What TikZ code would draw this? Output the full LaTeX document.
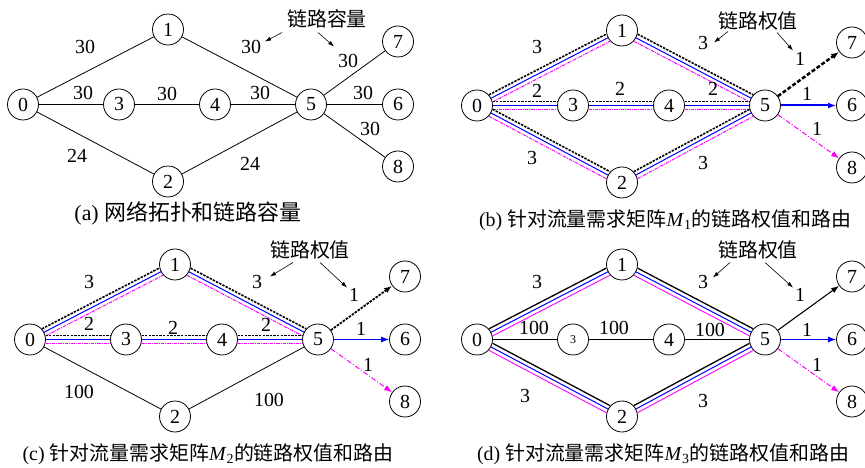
\documentclass[tikz,border=0pt]{standalone}
\usepackage{fontspec}
\setmainfont{Liberation Serif}
\newfontfamily\cjk{Noto Sans CJK SC}
\usetikzlibrary{calc,arrows.meta}
\pgfdeclarelayer{bg}
\pgfsetlayers{bg,main}

\newcommand\noderad{15.5bp}
\newcommand\lanegap{4bp}

% the nine routers of one panel; #1 = name prefix, #2 = font for router 3
\newcommand\placenodes[2]{%
  \node[vtx] (#1-0) at (0,0) {0};
  \node[vtx] (#1-1) at (145,-75) {1};
  \node[vtx] (#1-2) at (145,77) {2};
  \node[vtx] (#1-3) at (96,0) {#2{3}};
  \node[vtx] (#1-4) at (192,0) {4};
  \node[vtx] (#1-5) at (288,0) {5};
  \node[vtx] (#1-7) at (375,-63) {7};
  \node[vtx] (#1-6) at (375,0) {6};
  \node[vtx] (#1-8) at (375,62) {8};
}

% three parallel routes along one link: #3 upper, #4 middle, #5 lower
\newcommand\tripleedge[5]{%
  \draw[#3] ($(#1.center)!\noderad!(#2.center)!\lanegap!90:(#2.center)$) --
            ($(#2.center)!\noderad!(#1.center)!\lanegap!-90:(#1.center)$);
  \draw[#4] ($(#1.center)!\noderad!(#2.center)$) --
            ($(#2.center)!\noderad!(#1.center)$);
  \draw[#5] ($(#1.center)!\noderad!(#2.center)!\lanegap!-90:(#2.center)$) --
            ($(#2.center)!\noderad!(#1.center)!\lanegap!90:(#1.center)$);
}

\definecolor{rblue}{RGB}{0,0,255}
\definecolor{rmag}{RGB}{255,0,255}

\tikzset{
  vtx/.style={circle, draw, line width=0.8pt, minimum size=31bp, inner sep=0pt,
              fill=white, font=\fontsize{20}{20}\selectfont},
  lab/.style={inner sep=0pt, font=\fontsize{20}{20}\selectfont},
  notetxt/.style={inner sep=0pt, font=\fontsize{20}{20}\selectfont\cjk},
  captxt/.style={inner sep=0pt, font=\fontsize{20}{20}\selectfont},
  plainln/.style={line width=0.8pt},
  kdash/.style={line width=1.6pt, dash pattern=on 2.4pt off 1.2pt},
  ksolid/.style={line width=1.3pt},
  blu/.style={rblue, line width=1bp},
  magdash/.style={rmag, line width=1bp, dash pattern=on 3.5pt off 1pt on 1pt off 1pt},
  magsolid/.style={rmag, line width=0.9bp},
  headtip/.style={-{Latex[length=8pt,width=6pt]}},
  annarrow/.style={line width=0.6pt, -{Latex[length=6pt,width=4pt]}},
  magarrow/.style={rmag, line width=1pt, headtip, dash pattern=on 5pt off 2pt on 1pt off 2pt}
}

\begin{document}
\begin{tikzpicture}[x=1bp, y=-1bp]
\useasboundingbox (0,0) rectangle (865,468);
\begin{pgfonlayer}{bg}
  \fill[white] (0,0) rectangle (865,468);
\end{pgfonlayer}

% ---------- (a) topology and link capacities ----------
\begin{scope}[shift={(23,104.5)}]
  \placenodes{a}{}
  \begin{pgfonlayer}{bg}
    \foreach \u/\v in {0/1,1/5,0/3,3/4,4/5,0/2,2/5,5/7,5/6,5/8}
      \draw[plainln] (a-\u) -- (a-\v);
  \end{pgfonlayer}
  \node[lab] (a-l01) at (62,-58) {30};
  \node[lab] (a-l03) at (60,-12) {30};
  \node[lab] (a-l34) at (144,-11) {30};
  \node[lab] (a-l45) at (237,-12) {30};
  \node[lab] (a-l02) at (54,51) {24};
  \node[lab] (a-l25) at (227,59) {24};
  \node[lab] (a-l15) at (228,-58) {30};
  \node[lab] (a-l57) at (325,-44) {30};
  \node[lab] (a-l56) at (340,-12) {30};
  \node[lab] (a-l58) at (347,24) {30};
  \node[notetxt] (a-note) at (304,-86) {链路容量};
  \coordinate (a-p1) at (259,-72); \coordinate (a-q1) at (242,-63);
  \coordinate (a-p2) at (295,-72); \coordinate (a-q2) at (311,-58);
  \draw[annarrow] (a-p1) -- (a-q1);
  \draw[annarrow] (a-p2) -- (a-q2);
  \node[captxt, font=\fontsize{22}{22}\selectfont] (a-title) at (165,109)
    {(a) {\cjk 网络拓扑和链路容量}};
\end{scope}

% ---------- (b) weights and routes for M1 ----------
\begin{scope}[shift={(477,105.5)}]
  \placenodes{b}{}
  \begin{pgfonlayer}{bg}
    \foreach \u/\v in {0/1,1/5,0/3,3/4,4/5,0/2,2/5}
      \tripleedge{b-\u}{b-\v}{kdash}{blu}{magdash};
  \end{pgfonlayer}
  \draw[line width=2.5pt, dash pattern=on 4pt off 2pt, headtip] (b-5) -- (b-7);
  \draw[rblue, line width=2bp, headtip] (b-5) -- (b-6);
  \draw[magarrow] (b-5) -- (b-8);
  \node[lab] (b-l01) at (60,-58) {3};
  \node[lab] (b-l15) at (226,-62) {3};
  \node[lab] (b-l03) at (60,-15) {2};
  \node[lab] (b-l34) at (143,-17) {2};
  \node[lab] (b-l45) at (236,-17) {2};
  \node[lab] (b-l02) at (55,53) {3};
  \node[lab] (b-l25) at (226,58) {3};
  \node[lab] (b-l57) at (323,-47) {1};
  \node[lab] (b-l56) at (330,-12) {1};
  \node[lab] (b-l58) at (340,23) {1};
  \node[notetxt] (b-note) at (281,-85) {链路权值};
  \coordinate (b-p1) at (251,-74); \coordinate (b-q1) at (237,-63);
  \coordinate (b-p2) at (300,-73); \coordinate (b-q2) at (316,-55);
  \draw[annarrow] (b-p1) -- (b-q1);
  \draw[annarrow] (b-p2) -- (b-q2);
  \node[captxt] (b-title) at (188,115) {(b) {\cjk 针对流量需求矩阵}\textit{M}\textsubscript{1}{\cjk 的链路权值和路由}};
\end{scope}

% ---------- (c) weights and routes for M2 ----------
\begin{scope}[shift={(30,339.5)}]
  \placenodes{c}{}
  \begin{pgfonlayer}{bg}
    \foreach \u/\v in {0/1,1/5,0/3,3/4,4/5}
      \tripleedge{c-\u}{c-\v}{kdash}{blu}{magdash};
    \foreach \u/\v in {0/2,2/5}
      \draw[plainln] (c-\u) -- (c-\v);
  \end{pgfonlayer}
  \draw[line width=1.8pt, dash pattern=on 2.5pt off 1.2pt, headtip] (c-5) -- (c-7);
  \draw[rblue, line width=1bp, headtip] (c-5) -- (c-6);
  \draw[magarrow] (c-5) -- (c-8);
  \node[lab] (c-l01) at (59,-57) {3};
  \node[lab] (c-l15) at (227,-57) {3};
  \node[lab] (c-l03) at (59,-16) {2};
  \node[lab] (c-l34) at (143,-12) {2};
  \node[lab] (c-l45) at (236,-15) {2};
  \node[lab] (c-l02) at (49,52) {100};
  \node[lab] (c-l25) at (239,60) {100};
  \node[lab] (c-l57) at (324,-45) {1};
  \node[lab] (c-l56) at (331,-11) {1};
  \node[lab] (c-l58) at (338,25) {1};
  \node[notetxt] (c-note) at (280,-90) {链路权值};
  \coordinate (c-p1) at (263,-77); \coordinate (c-q1) at (240,-63);
  \coordinate (c-p2) at (290,-77); \coordinate (c-q2) at (317,-52);
  \draw[annarrow] (c-p1) -- (c-q1);
  \draw[annarrow] (c-p2) -- (c-q2);
  \node[captxt] (c-title) at (178,115) {(c) {\cjk 针对流量需求矩阵}\textit{M}\textsubscript{2}{\cjk 的链路权值和路由}};
\end{scope}

% ---------- (d) weights and routes for M3 ----------
\begin{scope}[shift={(477,339.5)}]
  \placenodes{d}{\fontsize{12}{12}\selectfont}
  \begin{pgfonlayer}{bg}
    \foreach \u/\v in {0/1,1/5,0/2,2/5}
      \tripleedge{d-\u}{d-\v}{ksolid}{blu}{magsolid};
    \foreach \u/\v in {0/3,3/4,4/5}
      \draw[plainln] (d-\u) -- (d-\v);
  \end{pgfonlayer}
  \draw[line width=1.1pt, headtip] (d-5) -- (d-7);
  \draw[rblue, line width=1bp, headtip] (d-5) -- (d-6);
  \draw[magarrow] (d-5) -- (d-8);
  \node[lab] (d-l01) at (60,-57) {3};
  \node[lab] (d-l15) at (226,-57) {3};
  \node[lab] (d-l03) at (57,-12) {100};
  \node[lab] (d-l34) at (137,-12) {100};
  \node[lab] (d-l45) at (233,-10) {100};
  \node[lab] (d-l02) at (48,57) {3};
  \node[lab] (d-l25) at (226,62) {3};
  \node[lab] (d-l57) at (323,-45) {1};
  \node[lab] (d-l56) at (330,-10) {1};
  \node[lab] (d-l58) at (340,25) {1};
  \node[notetxt] (d-note) at (281,-90) {链路权值};
  \coordinate (d-p1) at (253,-77); \coordinate (d-q1) at (236,-62);
  \coordinate (d-p2) at (288,-77); \coordinate (d-q2) at (316,-52);
  \draw[annarrow] (d-p1) -- (d-q1);
  \draw[annarrow] (d-p2) -- (d-q2);
  \node[captxt] (d-title) at (186,115) {(d) {\cjk 针对流量需求矩阵}\textit{M}\textsubscript{3}{\cjk 的链路权值和路由}};
\end{scope}
\end{tikzpicture}
\end{document}
